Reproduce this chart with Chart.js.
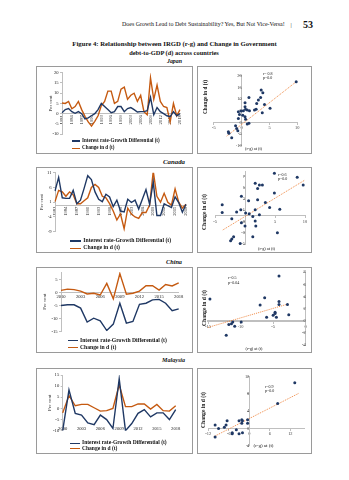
<!DOCTYPE html>
<html>
<head>
<meta charset="utf-8">
<script src="https://cdn.jsdelivr.net/npm/chart.js@4"></script>
<style>
  body { margin: 0; background: #fff; }
  #page { position: relative; width: 349px; height: 480px; overflow: hidden; font-family: 'Liberation Serif', 'Times New Roman', serif; }
  .t { position: absolute; white-space: nowrap; line-height: 1; color: #111; }
  .box { position: absolute; border: 1px solid #9a9a9a; box-sizing: border-box; }
  canvas { position: absolute; }
  .sw { position: absolute; height: 1.4px; }
</style>
</head>
<body>
<div id="page"></div>
<script>
// categories
const longYears = ['1981','1982','1983','1984','1985','1986','1987','1988','1989','1990','1991','1992','1993','1994','1995','1996','1997','1998','1999',
  '2001','2002','2003','2004','2005','2006','2007','2008','2009','2010','2011','2012','2013','2014','2015','2016','2017','2018']
const longShown = ['1981','1984','1987','1990','1993','1996','1999','2003','2006','2009','2012','2015','2018']
const shortYears = ['2000','2001','2002','2003','2004','2005','2006','2007','2008','2009','2010','2011','2012','2013','2014','2015','2016','2017','2018']
const shortShown = ['2000','2003','2006','2009','2012','2015','2018']

// Japan
const japanRG = [0.5, 2, 2.5, 1, 0.2, 1, 0, -2.5, -2, -1, 0, 2, 5, 3.5, 2, 0.5, 1, 3.5, 3.5, 1, 2.5, 3, 2, 0.8, 1, 1, 1.5, 8, -0.5, 3, 1, 0, -1, -1.5, 1, -1, 0]
const japanD = [5.2, 5, 6, 2.4, 3.5, 6, 2, -1.3, -4, -6, -3.7, -1, 4, 6, 11, 11, 5, 6, 12, 13, 7, 9, 10, 6, 9, 1, -0.5, 17.5, 7, 14, 6, 3.5, 3, -4, 5, -1, 2]
const japanScatterX = [9.8, 3.5, 3.8, 1.3, 3.4, 3.0, 0.6, 2.7, 4.1, 5.1, -0.6, 0.6, 0.7, 0.3, 1.0, 1.4, -0.1, 2.3, 2.6, 3.7, -0.4, 0.2, 0.6, -0.6, 0.7, 1.0, 1.3, -1.1, -0.9, -0.7, -2.4, -2.3, -1.8]
const japanScatterY = [17.4, 13.9, 12.7, 10.7, 10.7, 9.6, 8.4, 8.1, 7.7, 6.0, 4.6, 6.7, 5.6, 5.0, 5.3, 5.0, 4.9, 5.3, 5.6, 4.1, 3.4, 3.1, 2.4, 1.7, 1.3, -0.7, -0.4, -1.4, -2.6, -3.6, -4.0, -4.7, -6.6]
const japanTrendX = [-2.7, 9.8]
const japanTrendY = [-5.9, 17.4]

// Canada
const canadaRG = [4.8, 9.4, 2.5, 2.3, 2.3, 5, 0.5, 1.7, 5.7, 10, 8.7, 4.5, 2, 1.2, 3.7, 2.8, -0.5, 1.7, -2, -2.3, 2, 0.9, 1.7, -1.3, 2, 5.3, 0.3, 7.9, -3.5, -3.5, 0.5, -0.2, -0.8, 2.8, 0.9, -2.4, 0.3]
const canadaD = [1.2, 5, 4.5, 3, 4.5, 3.5, 0.5, 0.5, 1.5, 2.5, 6, 7, 6, 3, 2.5, 0.5, -2, -5, -3, -8, -1, -3, -4, -4.5, -2.5, -2.5, 0, 11.5, 3, 1, 4, 1, 0, 5.5, 1, -1, 0.3]
const canadaScatterX = [4.9, 8.7, 9.7, 1.7, 2.1, 2.4, 2.9, 4.9, -0.6, 0.6, 2.1, 3.4, -3.8, -3.8, -1.4, -0.7, 0.1, 0.7, 1.7, 2.4, 1.3, 4.1, 5.8, -2.2, -0.6, 0, 1.7, 1.8, 5.4, 1.3, -1.9, -2.2, -2.4, -0.8]
const canadaScatterY = [7.6, 6.9, 5.5, 5.8, 4.9, 5.5, 5.5, 4.1, 3.5, 2.7, 2.9, 2.4, 2.0, 0.6, 0.7, 1.1, 0.5, 0.4, 1.1, 0.2, -0.1, 1.5, 1.2, -0.5, -1.2, -1.8, -0.9, -1.8, -3.0, -3.7, -3.7, -4.1, -4.4, -4.9]
const canadaTrendX = [-3.7, 10]
const canadaTrendY = [-2.5, 6.4]

// China
const chinaRG = [-5, -4.7, -4.7, -6, -11.4, -9.9, -10.9, -14.7, -12.2, -4.1, -11.8, -11.2, -4.5, -4.1, -2.8, -2.6, -4.1, -7, -6.3]
const chinaD = [0.9, 1.4, 1.2, 0.6, -0.5, -0.2, -0.9, 3.6, -2.4, 7.4, -0.6, -0.2, 0.6, 2.7, 2.7, 1.0, 3.2, 2.6, 3.8]
const chinaTrendX = [-15, -2.6]
const chinaTrendY = [-1.1, 2.8]

// Malaysia
const malaysiaRG = [-10, 8.3, -2.2, -3, -6.5, -7.3, -3, -5, -9, 13.3, -10, -6.8, -2.2, -0.5, -3.8, -2, -2, -5, -0.5]
const malaysiaD = [-2, 5.8, 1.2, 1.8, 1.8, 0.3, -1.2, -1, 0, 10.6, 0.8, 0.8, 2, 2, -0.3, 1.8, -1, -1.2, 1.2]
const malaysiaTrendX = [-10.4, 14.6]
const malaysiaTrendY = [-1.9, 8.2]

// tick labels
const japanTicks = [-10, -5, 0, 5, 10, 15, 20]
const canadaTicks = [-9, -4, 1, 6, 11]
const chinaTicks = [-15, -10, -5, 0, 5]
const malaysiaTicks = [-10, -5, 0, 5, 10, 15]
const japanSX = [-5, 0, 5, 10], japanSY = [-10, -5, 0, 5, 10, 15, 20]
const canadaSX = [-5, 0, 5, 10], canadaSY = [-5, -3, -1, 1, 3, 5, 7]
const chinaSX = [-15, -10, -5, 0], chinaSY = [-4, -2, 0, 2, 4, 6, 8]
const malaysiaSX = [-12, -6, 0, 6, 12], malaysiaSY = [-4, 0, 4, 8, 12]

const NAVY = '#1f3864', ORANGE = '#c55a11', TREND = '#ed7d31', AXIS = '#bfbfbf'
const SERIF = "'Liberation Serif', 'Times New Roman', serif"
Chart.defaults.font.family = SERIF
Chart.defaults.color = '#222'

const page = document.getElementById('page')

function text(str, x, y, size, o = {}) {
  const el = document.createElement('div')
  el.className = 't'
  el.textContent = str
  el.style.fontSize = size + 'px'
  if (o.bold) el.style.fontWeight = 'bold'
  if (o.italic) el.style.fontStyle = 'italic'
  if (o.color) el.style.color = o.color
  page.appendChild(el)
  if (o.width) {
    const w = el.getBoundingClientRect().width
    el.style.fontSize = (size * o.width / w) + 'px'
  }
  el.style.left = x + 'px'
  el.style.top = y + 'px'
  el.style.transform = 'translate(' + (o.left ? '0' : '-50%') + ',-50%)' + (o.rot ? ' rotate(-90deg)' : '')
  return el
}

function frame(b) {
  const d = document.createElement('div')
  d.className = 'box'
  d.style.left = b.x + 'px'; d.style.top = b.y + 'px'
  d.style.width = b.w + 'px'; d.style.height = b.h + 'px'
  page.appendChild(d)
  const c = document.createElement('canvas')
  c.width = b.w; c.height = b.h
  c.style.left = b.x + 'px'; c.style.top = b.y + 'px'
  page.appendChild(c)
  return c
}

function legend(x1, x2, y1, y2, tx, width) {
  const sw = (y, col) => {
    const s = document.createElement('div')
    s.className = 'sw'
    s.style.left = x1 + 'px'; s.style.width = (x2 - x1) + 'px'
    s.style.top = (y - 0.7) + 'px'; s.style.background = col
    page.appendChild(s)
  }
  sw(y1, NAVY); sw(y2, ORANGE)
  const a = text('Interest rate-Growth Differential (t)', tx, y1, 5, {bold: true, left: true, width})
  text('Change in d (t)', tx, y2, parseFloat(a.style.fontSize), {bold: true, left: true})
}

function lineChart(b, a, o) {
  const cv = frame(b)
  const left = o.titleX - 3
  new Chart(cv, {
    type: 'line',
    data: {
      labels: o.labels,
      datasets: [
        {data: o.rg, borderColor: NAVY, borderWidth: 1.4, pointRadius: 0},
        {data: o.d, borderColor: ORANGE, borderWidth: 1.4, pointRadius: 0}
      ]
    },
    options: {
      responsive: false, animation: false,
      layout: {padding: {left: left - b.x, top: a.t - b.y, right: b.x + b.w - a.r, bottom: b.y + b.h - a.b}},
      plugins: {legend: {display: false}, tooltip: {enabled: false}},
      scales: {
        x: {
          position: {y: o.xAt}, offset: false,
          grid: {drawOnChartArea: false, drawTicks: false},
          border: {display: o.xLine, color: AXIS, width: 1},
          ticks: {
            autoSkip: false, minRotation: o.rot, maxRotation: o.rot, padding: 1.5,
            font: {size: 4.6}, color: '#222',
            callback: (v, i) => o.shown.includes(o.labels[i]) ? o.labels[i] : null
          },
          afterFit: s => { s.height = 0; s.paddingLeft = 0; s.paddingRight = 0 }
        },
        y: {
          min: o.min, max: o.max,
          afterBuildTicks: s => { s.ticks = o.ticks.map(v => ({value: v})) },
          grid: {drawOnChartArea: false, tickLength: 2, color: AXIS},
          border: {color: AXIS},
          ticks: {font: {size: 4.6}, color: '#222', padding: 1.5},
          title: {display: true, text: 'Per cent', font: {size: 5}, padding: 0, color: '#222'},
          afterFit: s => { s.width = a.l - left; s.paddingTop = 0; s.paddingBottom = 0 }
        }
      }
    }
  })
}

function axis(min, max, ticks, position, horizontal, width) {
  return {
    type: 'linear', min, max, position,
    afterBuildTicks: s => { s.ticks = ticks.map(v => ({value: v})) },
    grid: {drawOnChartArea: false, tickLength: 2, color: AXIS},
    border: {color: AXIS, width: width || 1},
    ticks: {font: {size: 4.4}, color: '#404040', padding: 1},
    afterFit: s => {
      if (horizontal) s.height = 0; else s.width = 0
      s.paddingLeft = s.paddingRight = s.paddingTop = s.paddingBottom = 0
    }
  }
}

function scatterChart(b, a, o) {
  const cv = frame(b)
  const pts = o.xs.map((x, i) => ({x, y: o.ys[i]}))
  const fit = o.tx.map((x, i) => ({x, y: o.ty[i]}))
  new Chart(cv, {
    type: 'scatter',
    data: {
      datasets: [
        {data: pts, backgroundColor: NAVY, borderWidth: 0, pointRadius: 1.5, clip: false},
        {data: fit, showLine: true, borderColor: TREND, borderWidth: 0.9, borderDash: [1, 1], pointRadius: 0}
      ]
    },
    options: {
      responsive: false, animation: false,
      layout: {padding: {left: a.l - b.x, top: a.t - b.y, right: b.x + b.w - a.r, bottom: b.y + b.h - a.b}},
      plugins: {legend: {display: false}, tooltip: {enabled: false}},
      scales: {
        x: axis(o.xMin, o.xMax, o.xTicks, {y: 0}, true, o.xWidth),
        y: axis(o.yMin, o.yMax, o.yTicks, {x: 0}, false)
      }
    }
  })
}

// page texts
text('Does Growth Lead to Debt Sustainability? Yes, But Not Vice-Versa!', 122, 25, 5.5, {left: true, width: 163})
text('|', 291, 25, 6)
text('53', 308, 24.5, 9, {bold: true, width: 10})
text('Figure 4: Relationship between IRGD (r-g) and Change in Government', 174.5, 44, 6.5, {bold: true, width: 205})
text('debt-to-GDP (d) across countries', 174, 52.7, 6.5, {bold: true, width: 90})
text('Japan', 174.5, 62, 6.5, {bold: true, italic: true, width: 15})
text('Canada', 174, 162, 6.5, {bold: true, italic: true, width: 22})
text('China', 174, 261.5, 6.5, {bold: true, italic: true, width: 16})
text('Malaysia', 173.5, 359.5, 6.5, {bold: true, italic: true, width: 23})

// Japan
lineChart({x: 36, y: 66, w: 157, h: 88}, {l: 62, t: 72.7, r: 180, b: 134.2},
  {labels: longYears, shown: longShown, rg: japanRG, d: japanD, min: -10, max: 20, ticks: japanTicks,
   xAt: 0, xLine: true, rot: 90, titleX: 51})
legend(71.7, 80, 141, 148.3, 82, 78)
scatterChart({x: 197, y: 66, w: 115, h: 88}, {l: 213.9, t: 75.7, r: 297.3, b: 145.7},
  {xs: japanScatterX, ys: japanScatterY, tx: japanTrendX, ty: japanTrendY,
   xMin: -5, xMax: 10, xTicks: japanSX, yMin: -10, yMax: 20, yTicks: japanSY})
text('r= 0.8', 263, 74, 4, {left: true})
text('p=0.0', 263, 78.3, 4, {left: true})
text('(r-g) at (t)', 253.5, 149, 4.5, {width: 17})
text('Change in d (t)', 206, 97, 4.5, {bold: true, rot: true, width: 34})

// Canada
lineChart({x: 36, y: 167, w: 157, h: 86}, {l: 55, t: 172.7, r: 186, b: 231.7},
  {labels: longYears, shown: longShown, rg: canadaRG, d: canadaD, min: -9, max: 11, ticks: canadaTicks,
   xAt: 0, xLine: true, rot: 90, titleX: 42})
legend(70, 81, 241, 248.3, 83.3, 88)
scatterChart({x: 197, y: 167, w: 115, h: 86}, {l: 215, t: 170, r: 305, b: 244},
  {xs: canadaScatterX, ys: canadaScatterY, tx: canadaTrendX, ty: canadaTrendY,
   xMin: -5, xMax: 10, xTicks: canadaSX, yMin: -5, yMax: 8, yTicks: canadaSY})
text('r=0.6', 278, 174.5, 4, {left: true})
text('p=0.0', 278, 179, 4, {left: true})
text('(r-g) at (t)', 266.5, 249, 4.5, {width: 17})
text('Change in d (t)', 205, 212, 4.5, {bold: true, rot: true, width: 36})

// China
lineChart({x: 36, y: 267, w: 157, h: 86}, {l: 61, t: 272.1, r: 178.7, b: 331.3},
  {labels: shortYears, shown: shortShown, rg: chinaRG, d: chinaD, min: -15, max: 8, ticks: chinaTicks,
   xAt: 0, xLine: true, rot: 0, titleX: 45})
legend(68, 78, 340.7, 347.7, 80, 87)
scatterChart({x: 197, y: 267, w: 115, h: 86}, {l: 208, t: 272.3, r: 305.7, b: 345},
  {xs: chinaRG, ys: chinaD, tx: chinaTrendX, ty: chinaTrendY,
   xMin: -15, xMax: 0, xTicks: chinaSX, yMin: -4, yMax: 8, yTicks: chinaSY, xWidth: 2})
text('r=0.5', 228, 278, 4, {left: true})
text('p=0.04', 228, 283, 4, {left: true})
text('(r-g) at (t)', 254, 349, 4.5, {width: 17})
text('Change in d (t)', 204.5, 308, 4.5, {bold: true, rot: true, width: 36})

// Malaysia
lineChart({x: 36, y: 368, w: 157, h: 86}, {l: 62.7, t: 375, r: 175.7, b: 430.7},
  {labels: shortYears, shown: shortShown, rg: malaysiaRG, d: malaysiaD, min: -10, max: 15, ticks: malaysiaTicks,
   xAt: -7.3, xLine: false, rot: 0, titleX: 50})
legend(70, 80, 443.3, 448.5, 82, 85)
scatterChart({x: 197, y: 368, w: 115, h: 86}, {l: 208.3, t: 376.7, r: 304, b: 445.7},
  {xs: malaysiaRG, ys: malaysiaD, tx: malaysiaTrendX, ty: malaysiaTrendY,
   xMin: -12, xMax: 16, xTicks: malaysiaSX, yMin: -4, yMax: 12, yTicks: malaysiaSY})
text('r=0.9', 265, 386.5, 4, {left: true})
text('p=0.0', 265, 390.5, 4, {left: true})
text('(r-g) at (t)', 263.5, 445.5, 4.5, {width: 20})
text('Change in d (t)', 203.5, 410, 4.5, {bold: true, rot: true, width: 36})
</script>
</body>
</html>
